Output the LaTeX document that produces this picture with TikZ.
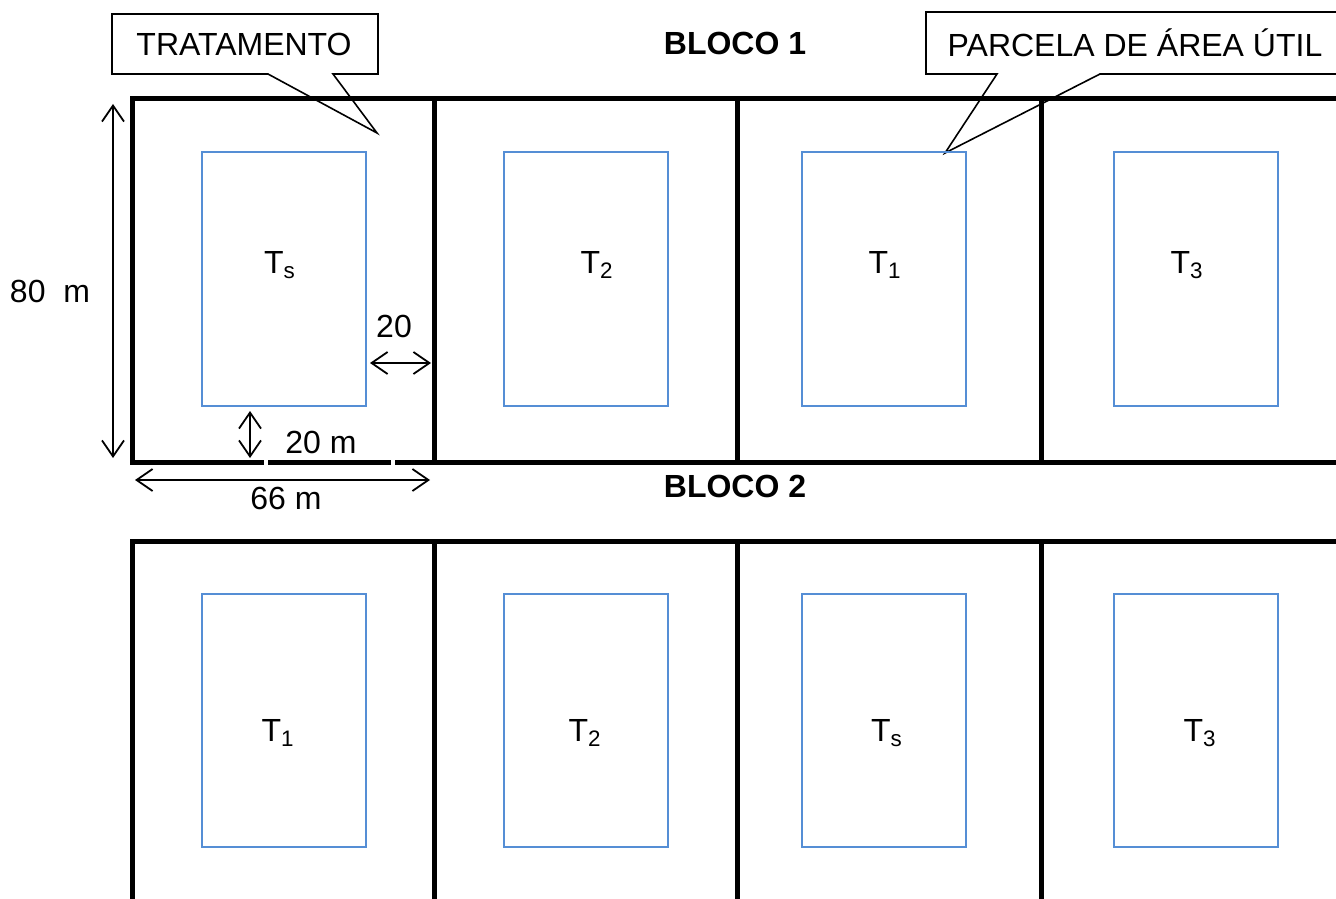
\documentclass[tikz,border=0pt]{standalone}
\usepackage{fontspec}
\setmainfont{Liberation Sans}
\usetikzlibrary{arrows.meta}
\usetikzlibrary{positioning}

\definecolor{plotblue}{RGB}{85,142,213}

\tikzset{
  wall/.style={line width=2.5pt},
  plotbox/.style={draw=plotblue, line width=0.8pt},
  dimline/.style={line width=0.9pt, {Straight Barb[length=8pt,width=11pt]}-{Straight Barb[length=8pt,width=11pt]}},
  callout/.style={line width=0.8pt},
  lbl/.style={font=\fontsize{16}{19}\selectfont, inner sep=0pt}
}

\begin{document}
\begin{tikzpicture}[x=0.5pt,y=-0.5pt]
\useasboundingbox (0,0) rectangle (1336,898);
\clip (0,0) rectangle (1336,898);

% callouts
\draw[callout] (112,14) -- (378,14) -- (378,74) -- (333,74) -- (377,133) -- (268,74) -- (112,74) -- cycle;
\node[lbl] (trat) at (244,44) {TRATAMENTO};
\draw[callout] (926,12) -- (1345,12) -- (1345,74) -- (1100,74) -- (945,153) -- (997,74) -- (926,74) -- cycle;
\node[lbl] (util) at (1135,43) {PARCELA DE ÁREA ÚTIL};

\node[lbl] (bloco1) at (735,43) {\bfseries BLOCO 1};
\node[lbl] (bloco2) at (735,486) {\bfseries BLOCO 2};

% bloco 1
\draw[wall] (1345,99) -- (132,99) -- (132,462) -- (264,462);
\draw[wall] (268,462) -- (391,462);
\draw[wall] (395,462) -- (1345,462);
\foreach \x in {434,737,1041}
  \draw[wall] (\x,99) -- (\x,462);

% bloco 2
\draw[wall] (1345,541) -- (132,541) -- (132,905);
\foreach \x in {434,737,1041}
  \draw[wall] (\x,541) -- (\x,905);

% useful plots
\foreach \x/\t/\d in {202/T\textsubscript{s}/78, 504/T\textsubscript{2}/93, 802/T\textsubscript{1}/83, 1114/T\textsubscript{3}/73}{
  \draw[plotbox] (\x,152) rectangle (\x+164,406);
  \node[lbl] at (\x+\d,265) {\t};
}
\foreach \x/\t/\d in {202/T\textsubscript{1}/76, 504/T\textsubscript{2}/81, 802/T\textsubscript{s}/85, 1114/T\textsubscript{3}/86}{
  \draw[plotbox] (\x,594) rectangle (\x+164,847);
  \node[lbl] at (\x+\d,733) {\t};
}

% dimensions
\draw[dimline] (113,104) -- (113,458);
\node[lbl] (h80) at (50,291) {80\ \ m};
\draw[dimline] (135,480) -- (430,480);
\node[lbl] (w66) at (286,498) {66 m};
\draw[dimline] (370,363) -- (431,363);
\node[lbl] (g20) at (394,326) {20};
\draw[dimline] (250,411) -- (250,458);
\node[lbl] (b20) at (321,442) {20 m};

\end{tikzpicture}
\end{document}
